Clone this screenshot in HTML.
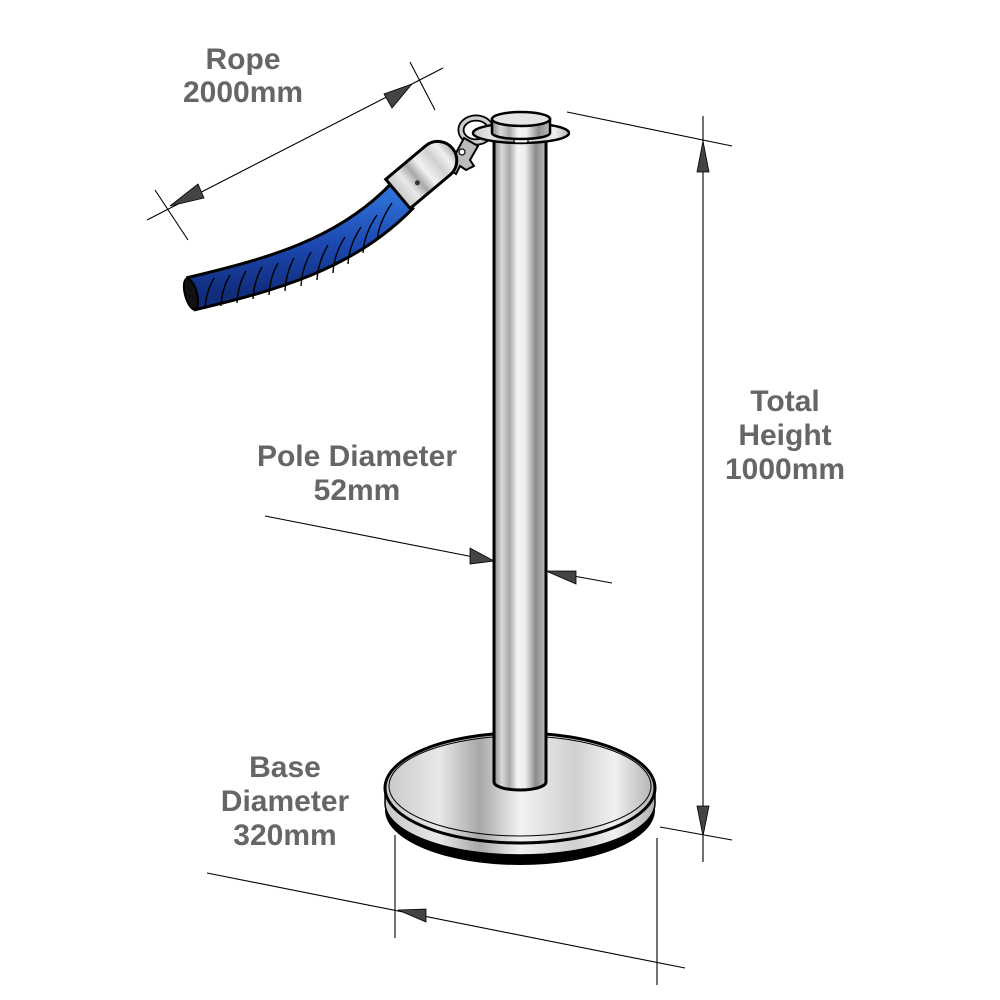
<!DOCTYPE html>
<html><head><meta charset="utf-8"><style>
html,body{margin:0;padding:0;background:#fff}
svg{display:block}
text{font-family:"Liberation Sans",Arial,sans-serif;font-weight:bold;fill:#666;font-size:30px;text-anchor:middle}
</style></head><body>
<svg width="1000" height="1000" viewBox="0 0 1000 1000" xmlns="http://www.w3.org/2000/svg">
<defs>
<linearGradient id="pole" x1="0" x2="1" y1="0" y2="0">
<stop offset="0" stop-color="#8a8a8a"/><stop offset="0.15" stop-color="#d8d8d8"/><stop offset="0.3" stop-color="#a8a8a8"/><stop offset="0.45" stop-color="#f4f4f4"/><stop offset="0.6" stop-color="#eeeeee"/><stop offset="0.8" stop-color="#8c8c8c"/><stop offset="1" stop-color="#bcbcbc"/>
</linearGradient>
<linearGradient id="base" x1="0" x2="1" y1="0" y2="0">
<stop offset="0" stop-color="#c8c8c8"/><stop offset="0.2" stop-color="#e8e8e8"/><stop offset="0.35" stop-color="#a8a8a8"/><stop offset="0.5" stop-color="#f2f2f2"/><stop offset="0.7" stop-color="#d0d0d0"/><stop offset="0.85" stop-color="#f0f0f0"/><stop offset="1" stop-color="#b0b0b0"/>
</linearGradient>
<linearGradient id="rope" x1="0" x2="0" y1="0" y2="1">
<stop offset="0" stop-color="#2d6fd6"/><stop offset="0.5" stop-color="#1c48b0"/><stop offset="1" stop-color="#102c7a"/>
</linearGradient>
</defs>

<!-- dimension lines -->
<g stroke="#000" stroke-width="1.1" fill="none">
<line x1="147" y1="220" x2="443" y2="68"/>
<line x1="155" y1="190" x2="188" y2="240"/>
<line x1="410" y1="62" x2="435" y2="110"/>
<line x1="703" y1="116" x2="703" y2="862"/>
<line x1="567" y1="112" x2="732" y2="146"/>
<line x1="660" y1="827" x2="732" y2="840"/>
<line x1="265" y1="516" x2="494" y2="561"/>
<line x1="546" y1="571" x2="612" y2="583"/>
<line x1="207" y1="873" x2="685" y2="968"/>
<line x1="395" y1="835" x2="395" y2="938"/>
<line x1="657" y1="838" x2="657" y2="985"/>
</g>
<g fill="#444" stroke="#000" stroke-width="0.8">
<polygon points="170,206 198,184 204,198"/>
<polygon points="412,84 384,94 392,108"/>
<polygon points="703,141 697,172 709,172"/>
<polygon points="703,836 697,806 709,806"/>
<polygon points="494,561 470,548 470,564"/>
<polygon points="546,571 576,571 576,584"/>
<polygon points="398,910 426,909 426,922"/>
</g>

<!-- base -->
<path d="M385,790 L385,810 A135,55 0 0 0 655,810 L655,790 Z" fill="#000"/>
<path d="M385,788 L385,803 A135,52 0 0 0 655,803 L655,788 Z" fill="url(#base)" stroke="#000" stroke-width="1.5"/>
<ellipse cx="520" cy="788" rx="135" ry="55" fill="url(#base)" stroke="#000" stroke-width="3"/>
<ellipse cx="520" cy="786" rx="131" ry="50" fill="none" stroke="#000" stroke-width="1"/>

<!-- pole -->
<path d="M494,140 L494,782 A26,8 0 0 0 546,782 L546,140 Z" fill="url(#pole)" stroke="#000" stroke-width="3"/>

<!-- ring + hook -->
<ellipse cx="476" cy="130" rx="15" ry="12" fill="none" stroke="#000" stroke-width="7"/>
<ellipse cx="476" cy="130" rx="15" ry="12" fill="none" stroke="#ccc" stroke-width="3.5"/>
<path d="M448,168 L464,138 L478,146 L470,160 L474,166 L466,170 L460,166 L456,174 Z" fill="#bbb" stroke="#000" stroke-width="2"/>
<circle cx="462" cy="152" r="3" fill="#fff" stroke="#000" stroke-width="1.2"/>

<!-- flange + cap -->
<ellipse cx="521" cy="133" rx="48" ry="10" fill="url(#base)" stroke="#000" stroke-width="2.5"/>
<rect x="514" y="138" width="14" height="5" rx="2" fill="#fff" stroke="#000" stroke-width="1.2"/>
<path d="M492,119 L492,133 A29,6 0 0 0 550,133 L550,119 Z" fill="url(#pole)" stroke="#000" stroke-width="2.5"/>
<ellipse cx="521" cy="119" rx="29" ry="7" fill="#e4e4e4" stroke="#000" stroke-width="2.5"/>

<!-- rope -->
<path d="M190,294 C270,275 345,255 402,196" fill="none" stroke="#000" stroke-width="36" stroke-linecap="butt"/>
<path d="M190,294 C270,275 345,255 402,196" fill="none" stroke="url(#rope)" stroke-width="30" stroke-linecap="butt"/>
<g stroke="#000" stroke-width="1.4" fill="none">
<path d="M205,309 Q206,292 214,278"/><path d="M221,306 Q222,288 230,275"/><path d="M237,303 Q238,285 246,271"/>
<path d="M253,299 Q254,281 262,267"/><path d="M269,295 Q270,277 278,263"/><path d="M285,291 Q286,273 294,258"/>
<path d="M301,286 Q302,268 311,252"/><path d="M317,280 Q318,262 328,245"/><path d="M333,273 Q334,254 345,237"/>
<path d="M348,264 Q349,245 361,227"/><path d="M363,253 Q364,234 377,215"/><path d="M377,240 Q379,222 392,203"/>
</g>
<ellipse cx="191" cy="294" rx="6" ry="16" fill="#111" stroke="#000" stroke-width="2" transform="rotate(-15 191 294)"/>

<!-- chrome end -->
<g transform="translate(424,172) rotate(-40)">
<path d="M-34,-19 L18,-19 A19,19 0 0 1 18,19 L-34,19 Z" fill="url(#base)" stroke="#000" stroke-width="3"/>
<circle cx="-12" cy="4" r="2.5" fill="#333"/>
</g>

<!-- labels -->
<text x="243" y="69">Rope</text>
<text x="243" y="102">2000mm</text>
<text x="785" y="411">Total</text>
<text x="785" y="445">Height</text>
<text x="785" y="479">1000mm</text>
<text x="357" y="466">Pole Diameter</text>
<text x="357" y="500">52mm</text>
<text x="285" y="777">Base</text>
<text x="285" y="811">Diameter</text>
<text x="285" y="845">320mm</text>
</svg>
</body></html>
